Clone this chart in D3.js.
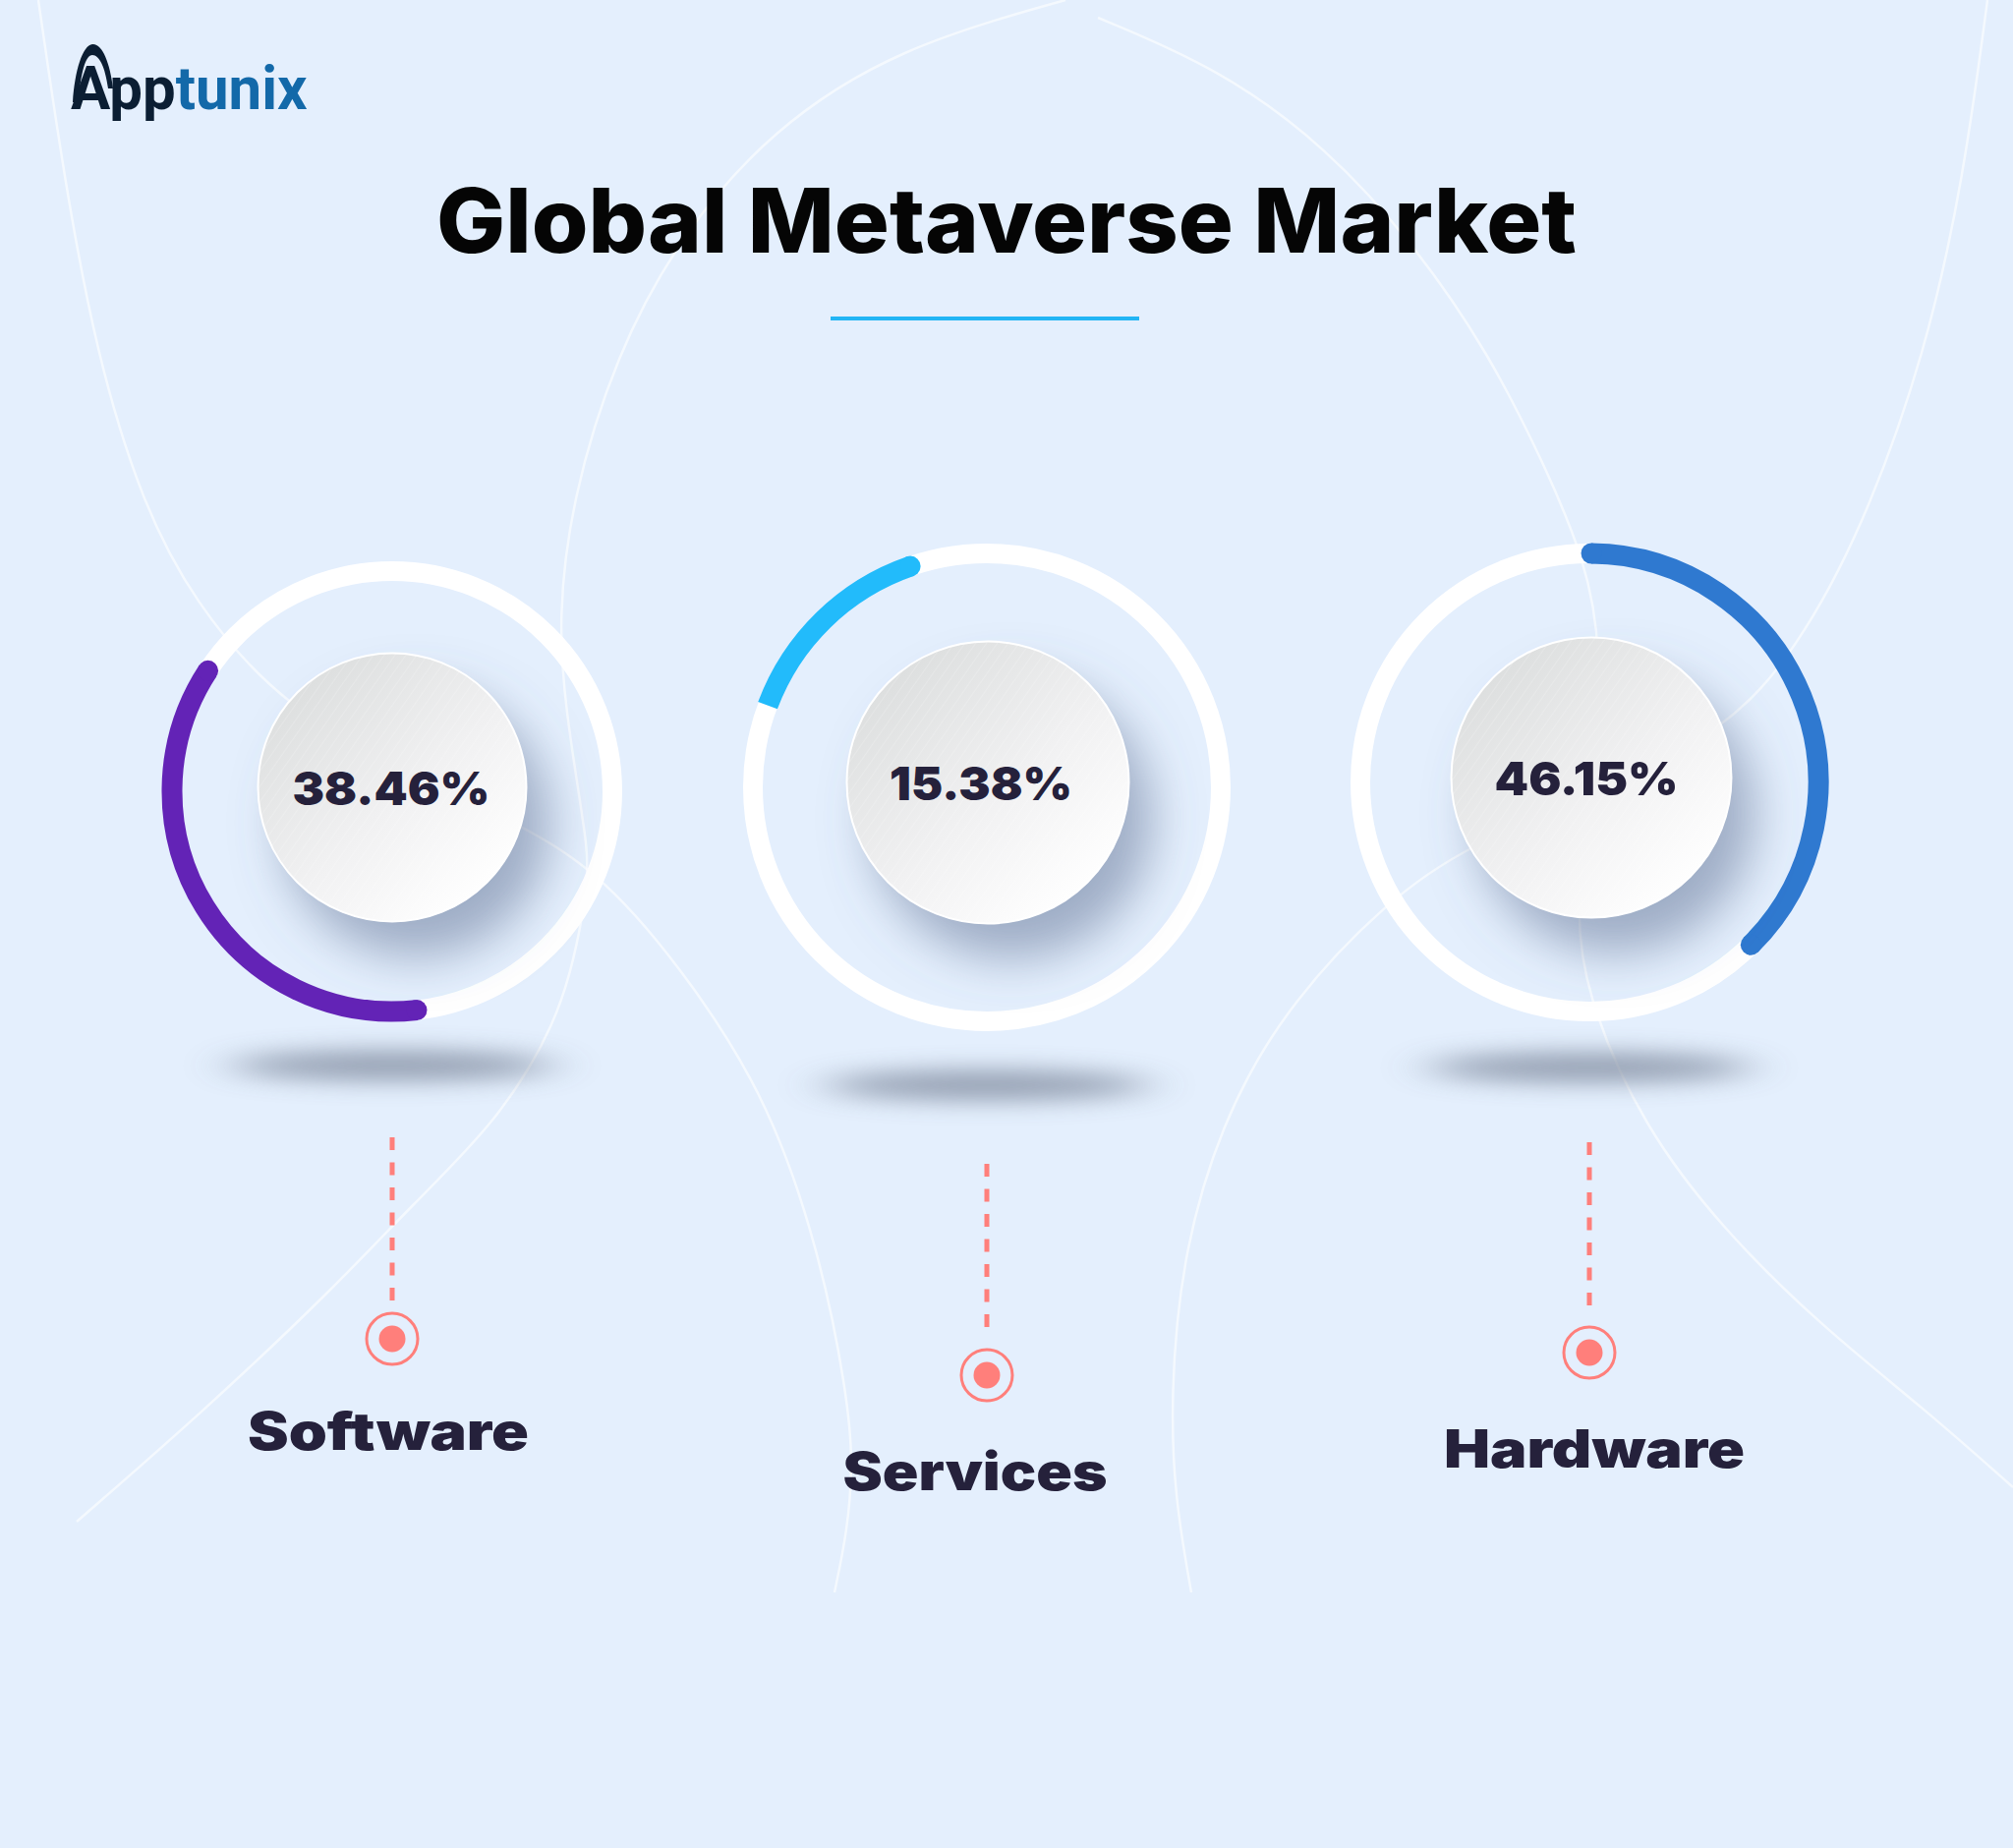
<!DOCTYPE html>
<html>
<head>
<meta charset="utf-8">
<script src="https://cdn.jsdelivr.net/npm/d3@7"></script>
<style>
  body { margin: 0; background: #e4effd; }
  svg { display: block; }
</style>
</head>
<body>
<svg id="chart"></svg>
<script>
const W = 2048, H = 1880;

// ---- data ----
const categories = ['Software', 'Services', 'Hardware'];
const shares     = [38.46, 15.38, 46.15];
// coloured part of each ring as it is drawn (fraction of a full turn)
const ringShown  = [0.36, 0.14, 0.374];
const ringStart  = [173.6, 290.5, 0.5];   // degrees, clockwise from 12 o'clock
const roundStart = [true, false, true];
const ringColors = ['#6323b6', '#22bbfb', '#2f79d0'];
const titleText  = 'Global Metaverse Market';

// ---- layout ----
const cx      = d3.scaleOrdinal().domain(categories).range([399, 1004, 1617]);
const ringY   = d3.scaleOrdinal().domain(categories).range([805, 801, 796]);
const ringR   = d3.scaleOrdinal().domain(categories).range([224, 238, 233]);
const discOff = d3.scaleOrdinal().domain(categories).range([[0, -4], [1, -5], [2, -5]]);
const discR   = d3.scaleOrdinal().domain(categories).range([136.5, 143.5, 142.5]);
const floorY  = d3.scaleOrdinal().domain(categories).range([1084, 1104, 1086]);
const dashY   = d3.scaleOrdinal().domain(categories).range([[1157, 1324], [1184, 1357], [1162, 1334]]);
const dotY    = d3.scaleOrdinal().domain(categories).range([1362, 1399, 1376]);
const labelX  = d3.scaleOrdinal().domain(categories).range([395, 992, 1622]);
const labelY  = d3.scaleOrdinal().domain(categories).range([1475, 1516, 1493]);
const labelW  = d3.scaleOrdinal().domain(categories).range([286, 269, 306]);
const pctX    = d3.scaleOrdinal().domain(categories).range([398, 998, 1614]);
const pctW    = d3.scaleOrdinal().domain(categories).range([201, 186, 187]);

const angle = d3.scaleLinear().domain([0, 1]).range([0, 2 * Math.PI]);
const rad = d => d * Math.PI / 180;

// faint decorative curves in the background
const bgCurves = [
  [[39,0],[65,180],[98,360],[144,510],[196,611],[287,719],[420,790],[529,838],[614,890],[705,1000],[784,1124],[836,1282],[862,1420],[868,1489],[862,1558],[849,1620]],
  [[1084,0],[914,48],[784,132],[692,240],[627,360],[581,510],[568,630],[575,720],[594,839],[600,885],[588,960],[567,1040],[507,1140],[420,1225],[340,1310],[209,1434],[78,1548]],
  [[1117,18],[1241,70],[1350,150],[1440,250],[1515,360],[1570,470],[1613,570],[1630,660],[1622,800],[1600,931],[1619,1027],[1672,1145],[1750,1248],[1855,1351],[1959,1434],[2048,1513]],
  [[2022,0],[1998,180],[1959,360],[1894,540],[1828,660],[1757,743],[1620,810],[1495,859],[1410,917],[1306,1027],[1241,1145],[1202,1282],[1191,1420],[1195,1523],[1212,1620]]
];

const svg = d3.select('#chart').attr('width', W).attr('height', H);
const defs = svg.append('defs');

const grad = defs.append('linearGradient').attr('id', 'discFill')
  .attr('x1', 0.15).attr('y1', 0.1).attr('x2', 0.85).attr('y2', 0.9);
grad.append('stop').attr('offset', 0).attr('stop-color', '#dcdede');
grad.append('stop').attr('offset', 0.55).attr('stop-color', '#f1f1f2');
grad.append('stop').attr('offset', 1).attr('stop-color', '#ffffff');

const pat = defs.append('pattern').attr('id', 'stripes')
  .attr('patternUnits', 'userSpaceOnUse').attr('width', 9).attr('height', 9)
  .attr('patternTransform', 'rotate(35)');
pat.append('line').attr('x1', 0).attr('y1', 0).attr('x2', 0).attr('y2', 9)
  .attr('stroke', '#ffffff').attr('stroke-width', 2).attr('stroke-opacity', 0.18);

const shadow = defs.append('filter').attr('id', 'discShadow')
  .attr('x', '-50%').attr('y', '-50%').attr('width', '200%').attr('height', '200%');
shadow.append('feDropShadow').attr('dx', 24).attr('dy', 36).attr('stdDeviation', 24)
  .attr('flood-color', '#5a6b8f').attr('flood-opacity', 0.5);

const blur = defs.append('filter').attr('id', 'floorBlur')
  .attr('x', '-50%').attr('y', '-300%').attr('width', '200%').attr('height', '700%');
blur.append('feGaussianBlur').attr('stdDeviation', '26 12');

// background
svg.append('rect').attr('width', W).attr('height', H).attr('fill', '#e4effd');

const curve = d3.line().curve(d3.curveBasis);
svg.append('g').selectAll('path').data(bgCurves).join('path')
  .attr('d', curve)
  .attr('fill', 'none')
  .attr('stroke', '#ffffff')
  .attr('stroke-opacity', 0.6)
  .attr('stroke-width', 2.5);

// logo
const logo = svg.append('g').attr('class', 'logo');
logo.append('path')
  .attr('d', 'M74,104 C76,72 84,46 94,45 C104,44 112,64 115,90 L110,90 C107,68 101,56 94,56 C87,56 82,74 80,104 Z')
  .attr('fill', '#0b1e33');
const logoText = logo.append('text')
  .attr('x', 72).attr('y', 111)
  .attr('font-family', 'Roboto, "Noto Sans", sans-serif')
  .attr('font-weight', 700)
  .attr('font-size', 62);
logoText.append('tspan').attr('fill', '#0b1e33').text('App');
logoText.append('tspan').attr('fill', '#1369a9').text('tunix');
{
  const bb = logoText.node().getBBox();
  const k = 241 / bb.width;
  logoText.attr('transform', `translate(${72 - 72 * k},0) scale(${k},1)`);
}

// title
svg.append('text')
  .attr('x', W / 2).attr('y', 257)
  .attr('text-anchor', 'middle')
  .attr('font-family', 'Inter, "Open Sans", sans-serif')
  .attr('font-weight', 800)
  .attr('font-size', 91)
  .attr('fill', '#050505')
  .attr('textLength', 1160)
  .attr('lengthAdjust', 'spacingAndGlyphs')
  .text(titleText);

svg.append('rect')
  .attr('x', 845).attr('y', 322).attr('width', 314).attr('height', 4)
  .attr('fill', '#22b5f5');

// one group per category
const items = categories.map((c, i) => ({
  cat: c, share: shares[i], shown: ringShown[i], start: ringStart[i],
  roundStart: roundStart[i], color: ringColors[i]
}));

const g = svg.append('g').selectAll('g').data(items).join('g');

// floor shadow
g.append('ellipse')
  .attr('cx', d => cx(d.cat)).attr('cy', d => floorY(d.cat))
  .attr('rx', 165).attr('ry', 15)
  .attr('fill', '#7d889c').attr('opacity', 0.8)
  .attr('filter', 'url(#floorBlur)');

// white track
g.append('circle')
  .attr('cx', d => cx(d.cat)).attr('cy', d => ringY(d.cat))
  .attr('r', d => ringR(d.cat))
  .attr('fill', 'none').attr('stroke', '#ffffff').attr('stroke-width', 20);

// coloured arc
function arcPath(d) {
  const p = d3.path();
  const r = ringR(d.cat);
  const a0 = rad(d.start) - Math.PI / 2;
  const a1 = a0 + angle(d.shown);
  p.arc(cx(d.cat), ringY(d.cat), r, a0, a1);
  return p.toString();
}
g.append('path')
  .attr('d', arcPath)
  .attr('fill', 'none').attr('stroke', d => d.color)
  .attr('stroke-width', 21).attr('stroke-linecap', 'butt');

function capPoint(d, a) {
  const r = ringR(d.cat);
  return [cx(d.cat) + r * Math.sin(a), ringY(d.cat) - r * Math.cos(a)];
}
g.append('circle')
  .attr('cx', d => capPoint(d, rad(d.start) + angle(d.shown))[0])
  .attr('cy', d => capPoint(d, rad(d.start) + angle(d.shown))[1])
  .attr('r', 10.5).attr('fill', d => d.color);
g.filter(d => d.roundStart).append('circle')
  .attr('cx', d => capPoint(d, rad(d.start))[0])
  .attr('cy', d => capPoint(d, rad(d.start))[1])
  .attr('r', 10.5).attr('fill', d => d.color);

// centre disc
const dcx = d => cx(d.cat) + discOff(d.cat)[0];
const dcy = d => ringY(d.cat) + discOff(d.cat)[1];
g.append('circle')
  .attr('cx', dcx).attr('cy', dcy).attr('r', d => discR(d.cat))
  .attr('fill', 'url(#discFill)')
  .attr('filter', 'url(#discShadow)');
g.append('circle')
  .attr('cx', dcx).attr('cy', dcy).attr('r', d => discR(d.cat))
  .attr('fill', 'url(#stripes)')
  .attr('stroke', '#ffffff').attr('stroke-width', 2);

g.append('text')
  .attr('x', d => pctX(d.cat)).attr('y', d => dcy(d) + 18)
  .attr('text-anchor', 'middle')
  .attr('font-family', 'Inter, "Open Sans", sans-serif')
  .attr('font-weight', 900)
  .attr('font-size', 47)
  .attr('fill', '#25213b')
  .attr('textLength', d => pctW(d.cat))
  .attr('lengthAdjust', 'spacingAndGlyphs')
  .text(d => d.share.toFixed(2) + '%');

// dashed connector and target dot
g.append('line')
  .attr('x1', d => cx(d.cat)).attr('x2', d => cx(d.cat))
  .attr('y1', d => dashY(d.cat)[0]).attr('y2', d => dashY(d.cat)[1])
  .attr('stroke', '#ff7f7b').attr('stroke-width', 5)
  .attr('stroke-dasharray', '13 12.5');
g.append('circle')
  .attr('cx', d => cx(d.cat)).attr('cy', d => dotY(d.cat))
  .attr('r', 26).attr('fill', 'none')
  .attr('stroke', '#ff7f7b').attr('stroke-width', 3);
g.append('circle')
  .attr('cx', d => cx(d.cat)).attr('cy', d => dotY(d.cat))
  .attr('r', 13.5).attr('fill', '#ff7f7b');

// category label
g.append('text')
  .attr('x', d => labelX(d.cat)).attr('y', d => labelY(d.cat))
  .attr('text-anchor', 'middle')
  .attr('font-family', 'Inter, "Open Sans", sans-serif')
  .attr('font-weight', 900)
  .attr('font-size', 53)
  .attr('fill', '#25213b')
  .attr('textLength', d => labelW(d.cat))
  .attr('lengthAdjust', 'spacingAndGlyphs')
  .text(d => d.cat);
</script>
</body>
</html>
